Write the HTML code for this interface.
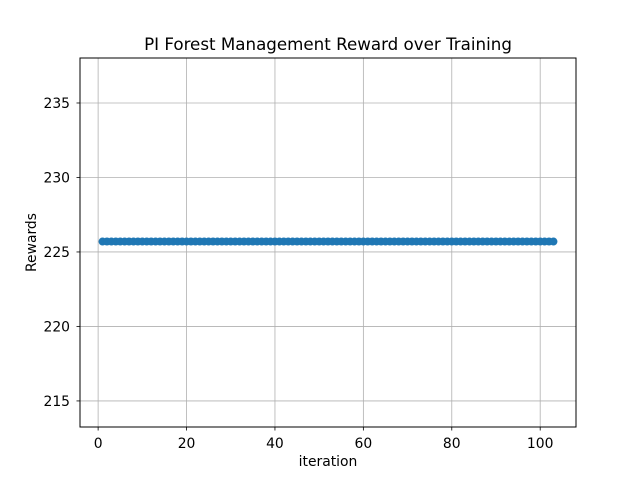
<!DOCTYPE html>
<html>
<head>
<meta charset="utf-8">
<style>
html,body{margin:0;padding:0;background:#fff;}
svg{display:block;font-family:"DejaVu Sans","Liberation Sans",sans-serif;}
</style>
</head>
<body>
<svg id="chart" width="640" height="480" viewBox="0 0 640 480">
  <rect x="0" y="0" width="640" height="480" fill="#fff"/>
  <text x="328" y="50" text-anchor="middle" font-size="16.7" fill="#000">PI Forest Management Reward over Training</text>
  <g id="grid"></g>
  <g id="points"></g>
  <rect x="80" y="58" width="496" height="369" fill="none" stroke="#000" stroke-width="1"/>
  <g id="ticks"></g>
  <text x="328" y="466" text-anchor="middle" font-size="13.9" fill="#000">iteration</text>
  <text x="36" y="242.5" text-anchor="middle" font-size="13.9" fill="#000" transform="rotate(-90 36 242.5)">Rewards</text>
</svg>
<script>
const xTicks = [0, 20, 40, 60, 80, 100];
const yTicks = [215, 220, 225, 230, 235];
const iterations = [];
for (let i = 1; i <= 103; i++) iterations.push(i);
const rewards = [225.7,225.7,225.7,225.7,225.7,225.7,225.7,225.7,225.7,225.7,225.7,225.7,225.7,225.7,225.7,225.7,225.7,225.7,225.7,225.7,225.7,225.7,225.7,225.7,225.7,225.7,225.7,225.7,225.7,225.7,225.7,225.7,225.7,225.7,225.7,225.7,225.7,225.7,225.7,225.7,225.7,225.7,225.7,225.7,225.7,225.7,225.7,225.7,225.7,225.7,225.7,225.7,225.7,225.7,225.7,225.7,225.7,225.7,225.7,225.7,225.7,225.7,225.7,225.7,225.7,225.7,225.7,225.7,225.7,225.7,225.7,225.7,225.7,225.7,225.7,225.7,225.7,225.7,225.7,225.7,225.7,225.7,225.7,225.7,225.7,225.7,225.7,225.7,225.7,225.7,225.7,225.7,225.7,225.7,225.7,225.7,225.7,225.7,225.7,225.7,225.7,225.7,225.7];

const X0 = 80, X1 = 576, Y0 = 58, Y1 = 427;
const xMin = -4.1, xMax = 108.1;
const yMin = 213.25, yMax = 238.02;
function xs(v){ return X0 + (v - xMin) / (xMax - xMin) * (X1 - X0); }
function ys(v){ return Y1 - (v - yMin) / (yMax - yMin) * (Y1 - Y0); }

const NS = "http://www.w3.org/2000/svg";
const grid = document.getElementById('grid');
const ticks = document.getElementById('ticks');
const pts = document.getElementById('points');
function mk(tag, attrs){ const e = document.createElementNS(NS, tag); for (const k in attrs) e.setAttribute(k, attrs[k]); return e; }

xTicks.forEach(t => {
  const x = xs(t);
  const g = mk('line', {x1:x, x2:x, y1:Y0, y2:Y1, stroke:'#b0b0b0', 'stroke-width':0.8});
  
  
  grid.appendChild(g);
  const tk = mk('line', {x1:x, x2:x, y1:Y1, y2:Y1+3.5, stroke:'#000', 'stroke-width':0.8});
  
  
  ticks.appendChild(tk);
  const lb = mk('text', {x:x, y:Y1+21, 'text-anchor':'middle', 'font-size':13.9, fill:'#000'});
  lb.textContent = t;
  
  
  ticks.appendChild(lb);
});
yTicks.forEach(t => {
  const y = ys(t);
  const g = mk('line', {x1:X0, x2:X1, y1:y, y2:y, stroke:'#b0b0b0', 'stroke-width':0.8});
  
  
  grid.appendChild(g);
  const tk = mk('line', {x1:X0-3.5, x2:X0, y1:y, y2:y, stroke:'#000', 'stroke-width':0.8});
  
  
  ticks.appendChild(tk);
  const lb = mk('text', {x:X0-10, y:y+5, 'text-anchor':'end', 'font-size':13.9, fill:'#000'});
  lb.textContent = t;
  
  
  ticks.appendChild(lb);
});
const path = mk('polyline', {points: iterations.map((v,i)=>xs(v)+','+ys(rewards[i])).join(' '), fill:'none', stroke:'#1f77b4', 'stroke-width':1.5});


pts.appendChild(path);
iterations.forEach((v,i) => {
  const c = mk('circle', {cx:xs(v), cy:ys(rewards[i]), r:4, fill:'#1f77b4'});
  
  
  pts.appendChild(c);
});
</script>
</body>
</html>
